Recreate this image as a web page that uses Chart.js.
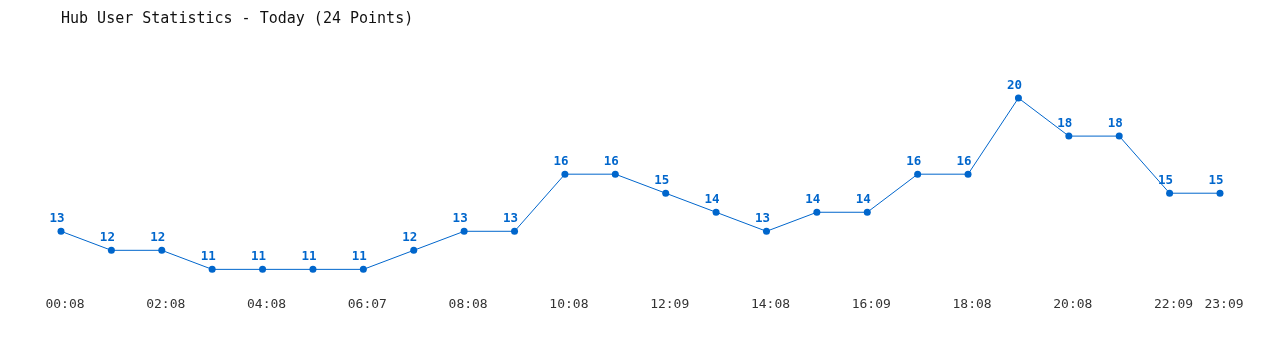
<!DOCTYPE html>
<html>
<head>
<meta charset="utf-8">
<script src="https://cdn.jsdelivr.net/npm/chart.js@4/dist/chart.umd.min.js"></script>
<style>
  html, body { margin: 0; padding: 0; background: #fff; }
  #wrap { width: 1280px; height: 350px; }
</style>
</head>
<body>
<div id="wrap"><canvas id="diagram"></canvas></div>
<script>
const zeiten = ["00:08", "01:08", "02:08", "03:08", "04:08", "05:08", "06:07", "07:08",
  "08:08", "09:08", "10:08", "11:08", "12:09", "13:08", "14:08", "15:08",
  "16:09", "17:08", "18:08", "19:08", "20:08", "21:08", "22:09", "23:09"];
const nutzer = [13, 12, 12, 11, 11, 11, 11, 12, 13, 13, 16, 16, 15, 14, 13, 14, 14, 16, 16, 20, 18, 18, 15, 15];
const titel = "Hub User Statistics - Today (24 Points)";

const blau = "#0066cc";

// Werte über die Punkte schreiben
const wertBeschriftung = {
  id: "wertBeschriftung",
  afterDatasetsDraw(chart) {
    const ctx = chart.ctx;
    const meta = chart.getDatasetMeta(0);
    ctx.save();
    ctx.fillStyle = blau;
    ctx.font = "bold 12.5px 'DejaVu Sans Mono', monospace";
    ctx.textAlign = "center";
    ctx.textBaseline = "bottom";
    meta.data.forEach((punkt, i) => {
      ctx.fillText(String(nutzer[i]), punkt.x - 4, punkt.y - 6);
    });
    ctx.restore();
  }
};

new Chart(document.getElementById("diagram"), {
  type: "line",
  data: {
    labels: zeiten,
    datasets: [{
      data: nutzer,
      borderColor: blau,
      backgroundColor: blau,
      borderWidth: 1,
      pointRadius: 3.5,
      pointBorderWidth: 0,
      pointBackgroundColor: blau,
      tension: 0
    }]
  },
  options: {
    responsive: true,
    maintainAspectRatio: false,
    animation: false,
    layout: { padding: { left: 61, right: 60, top: 0, bottom: 30 } },
    plugins: {
      legend: { display: false },
      tooltip: { enabled: false },
      title: {
        display: true,
        text: titel,
        align: "start",
        color: "#111",
        font: { family: "'DejaVu Sans Mono', monospace", size: 15, weight: "normal" },
        padding: { top: 10, bottom: 51 }
      }
    },
    scales: {
      x: {
        offset: false,
        grid: { display: false, drawTicks: false },
        border: { display: false },
        ticks: {
          autoSkip: false,
          maxRotation: 0,
          padding: 8,
          labelOffset: 4,
          color: "#333",
          font: { family: "'DejaVu Sans Mono', monospace", size: 13 },
          callback: function (wert, i) {
            return (i % 2 === 0 || i === zeiten.length - 1) ? zeiten[i] : "";
          }
        }
      },
      y: {
        display: false,
        min: 10,
        max: 21
      }
    }
  },
  plugins: [wertBeschriftung]
});
</script>
</body>
</html>
